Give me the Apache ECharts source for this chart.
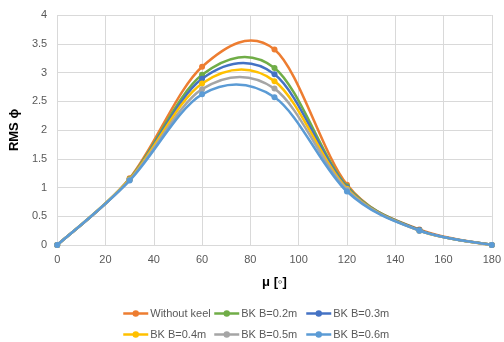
<!DOCTYPE html>
<html>
<head>
<meta charset="utf-8">
<script src="https://cdn.jsdelivr.net/npm/echarts@6/dist/echarts.min.js"></script>
<style>
  html, body { margin: 0; padding: 0; background: #fff; }
  #chart { width: 504px; height: 342px; }
</style>
</head>
<body>
<div id="chart"></div>
<script>
const mu = [0, 30, 60, 90, 120, 150, 180];
const seriesNames = ['Without keel', 'BK B=0.2m', 'BK B=0.3m', 'BK B=0.4m', 'BK B=0.5m', 'BK B=0.6m'];
const colors = ['#ED7D31', '#70AD47', '#4472C4', '#FFC000', '#A5A5A5', '#5B9BD5'];
const withoutKeel = [0, 1.16, 3.10, 3.40, 1.05, 0.27, 0];
const bk02 = [0, 1.15, 2.96, 3.08, 1.02, 0.26, 0];
const bk03 = [0, 1.14, 2.89, 2.97, 1.00, 0.26, 0];
const bk04 = [0, 1.14, 2.81, 2.85, 0.98, 0.25, 0];
const bk05 = [0, 1.13, 2.71, 2.72, 0.96, 0.25, 0];
const bk06 = [0, 1.12, 2.62, 2.57, 0.93, 0.25, 0];
const allValues = [withoutKeel, bk02, bk03, bk04, bk05, bk06];

const font = '"Liberation Sans", Arial, sans-serif';
const legendPos = [
  { left: 122, top: 308 }, { left: 213, top: 308 }, { left: 305, top: 308 },
  { left: 122, top: 329 }, { left: 213, top: 329 }, { left: 305, top: 329 },
];

// Excel-style smoothed line: Catmull-Rom through the data points, in pixel space
function smoothPath(values, color) {
  return function (params, api) {
    const pts = mu.map((x, j) => api.coord([x, values[j]]));
    const n = pts.length;
    const p = (k) => pts[Math.max(0, Math.min(n - 1, k))];
    let d = `M${pts[0][0]} ${pts[0][1]}`;
    for (let k = 0; k < n - 1; k++) {
      const a = p(k - 1), b = p(k), c = p(k + 1), e = p(k + 2);
      const c1 = [b[0] + (c[0] - a[0]) / 6, b[1] + (c[1] - a[1]) / 6];
      const c2 = [c[0] - (e[0] - b[0]) / 6, c[1] - (e[1] - b[1]) / 6];
      d += ` C${c1[0]} ${c1[1]} ${c2[0]} ${c2[1]} ${c[0]} ${c[1]}`;
    }
    return {
      type: 'path',
      shape: { pathData: d },
      style: { fill: null, stroke: color, lineWidth: 2.5, lineJoin: 'round' },
      silent: true,
    };
  };
}

const series = [];
seriesNames.forEach((n, i) => {
  series.push({
    name: n,
    type: 'line',
    symbol: 'circle',
    symbolSize: 6,
    color: colors[i],
    lineStyle: { width: 2.5, opacity: 0 },
    itemStyle: { color: colors[i] },
    z: 3 + i * 2,
    data: mu.map((x, j) => [x, allValues[i][j]]),
  });
  series.push({
    name: n,
    type: 'custom',
    renderItem: smoothPath(allValues[i], colors[i]),
    data: [[mu[0], allValues[i][0]]],
    encode: { x: 0, y: 1 },
    z: 2 + i * 2,
    silent: true,
  });
});

const chart = echarts.init(document.getElementById('chart'));
chart.setOption({
  animation: false,
  grid: { left: 56, right: 8, top: 15, bottom: 97 },
  legend: seriesNames.map((n, i) => ({
    data: [n],
    left: legendPos[i].left,
    top: legendPos[i].top,
    itemWidth: 25,
    itemHeight: 8,
    padding: 0,
    lineStyle: { width: 2.5, opacity: 1, color: colors[i] },
    itemStyle: { color: colors[i] },
    textStyle: { color: '#595959', fontSize: 11, fontFamily: font, padding: [0, 0, 0, -3] },
  })),
  xAxis: {
    type: 'value',
    min: 0, max: 180, interval: 20,
    name: 'μ [◦]',
    nameLocation: 'middle',
    nameGap: 31,
    nameTextStyle: { color: '#000', fontWeight: 'bold', fontSize: 13, fontFamily: font },
    axisLabel: { color: '#595959', fontSize: 11, fontFamily: font, margin: 9 },
    axisLine: { show: true, lineStyle: { color: '#d9d9d9' } },
    axisTick: { show: false },
    splitLine: { show: true, lineStyle: { color: '#d9d9d9' } },
  },
  yAxis: {
    type: 'value',
    min: 0, max: 4, interval: 0.5,
    name: 'RMS ϕ',
    nameLocation: 'middle',
    nameGap: 31,
    nameTextStyle: { color: '#000', fontWeight: 'bold', fontSize: 13, fontFamily: font },
    axisLabel: { color: '#595959', fontSize: 11, fontFamily: font, margin: 10 },
    axisLine: { show: false },
    axisTick: { show: false },
    splitLine: { lineStyle: { color: '#d9d9d9' } },
  },
  series: series,
});
</script>
</body>
</html>
